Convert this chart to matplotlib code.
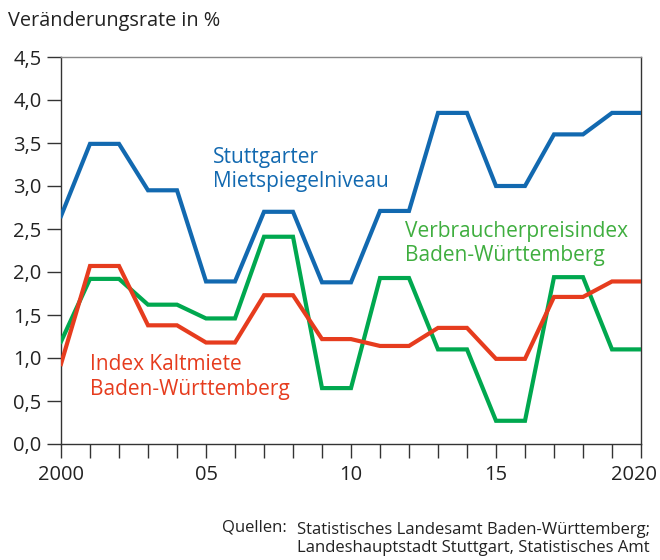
import matplotlib
matplotlib.use("Agg")
import matplotlib.pyplot as plt
from matplotlib.ticker import FixedLocator
from matplotlib.transforms import ScaledTranslation

plt.rcParams['font.family'] = ['Open Sans', 'DejaVu Sans']

years = list(range(2000, 2021))
mietspiegel = [2.65, 3.49, 3.49, 2.95, 2.95, 1.89, 1.89, 2.70, 2.70, 1.88, 1.88,
               2.71, 2.71, 3.85, 3.85, 3.00, 3.00, 3.60, 3.60, 3.85, 3.85]
kaltmiete = [0.93, 2.07, 2.07, 1.38, 1.38, 1.18, 1.18, 1.73, 1.73, 1.22, 1.22,
             1.14, 1.14, 1.35, 1.35, 0.99, 0.99, 1.71, 1.71, 1.89, 1.89]
vpi = [1.19, 1.92, 1.92, 1.62, 1.62, 1.46, 1.46, 2.41, 2.41, 0.65, 0.65,
       1.93, 1.93, 1.10, 1.10, 0.27, 0.27, 1.94, 1.94, 1.10, 1.10]

y_ticks = [0.0, 0.5, 1.0, 1.5, 2.0, 2.5, 3.0, 3.5, 4.0, 4.5]
x_tick_years = [2000, 2005, 2010, 2015, 2020]
x_tick_labels = ["2000", "05", "10", "15", "2020"]

BLUE = "#1269b0"
RED = "#e63c1e"
GREEN = "#00a84f"
GREEN_TXT = "#3fae3f"
TXT = "#222222"

fig = plt.figure(figsize=(6.6, 5.6), dpi=100)
ax = fig.add_axes([61/660, 116/560, 580/660, 387/560])

lw = 3.0
ax.plot(years, mietspiegel, color=BLUE, lw=lw, solid_joinstyle='miter', zorder=3)
ax.plot(years, vpi, color=GREEN, lw=lw, solid_joinstyle='miter', zorder=3)
ax.plot(years, kaltmiete, color=RED, lw=lw, solid_joinstyle='miter', zorder=4)

ax.set_xlim(2000, 2020)
ax.set_ylim(0, 4.5)
ax.yaxis.set_major_locator(FixedLocator(y_ticks))
ax.set_yticklabels([f"{v:.1f}".replace(".", ",") for v in y_ticks])
ax.xaxis.set_major_locator(FixedLocator(years))
ax.set_xticklabels([x_tick_labels[x_tick_years.index(y)] if y in x_tick_years else "" for y in years])

for side in ['left', 'bottom', 'right']:
    ax.spines[side].set_color("#333333")
    ax.spines[side].set_linewidth(1.0)
ax.spines['top'].set_color("#888888")
ax.spines['top'].set_linewidth(1.0)
ax.tick_params(axis='both', direction='out', length=10, width=1.0, color="#333333",
               labelsize=14.5, labelcolor=TXT)
ax.tick_params(axis='y', pad=4)
ax.tick_params(axis='x', pad=5)

# keep the last year label inside the figure
last = ax.get_xticklabels()[-1]
last.set_transform(last.get_transform() + ScaledTranslation(-7/100, 0, fig.dpi_scale_trans))

fig.text(8/660, 1 - 21/560, "Veränderungsrate in %", fontsize=14.3, color=TXT, va='center', ha='left')

fs = 15
ax.text(2005.25, 3.19, "Stuttgarter\nMietspiegelniveau", color=BLUE, fontsize=fs,
        ha='left', va='center', linespacing=1.2)
ax.text(2011.86, 2.33, "Verbraucherpreisindex\nBaden-Württemberg", color=GREEN_TXT, fontsize=fs,
        ha='left', va='center', linespacing=1.2)
ax.text(2001.0, 0.78, "Index Kaltmiete\nBaden-Württemberg", color=RED, fontsize=fs,
        ha='left', va='center', linespacing=1.2)

fig.text(287/660, 1 - 528/560, "Quellen:", fontsize=12, color=TXT, ha='right', va='center')
fig.text(297/660, 1 - 539/560,
         "Statistisches Landesamt Baden-Württemberg;\nLandeshauptstadt Stuttgart, Statistisches Amt",
         fontsize=12, color=TXT, ha='left', va='center', linespacing=1.1)

fig.savefig("out.png", dpi=100)
